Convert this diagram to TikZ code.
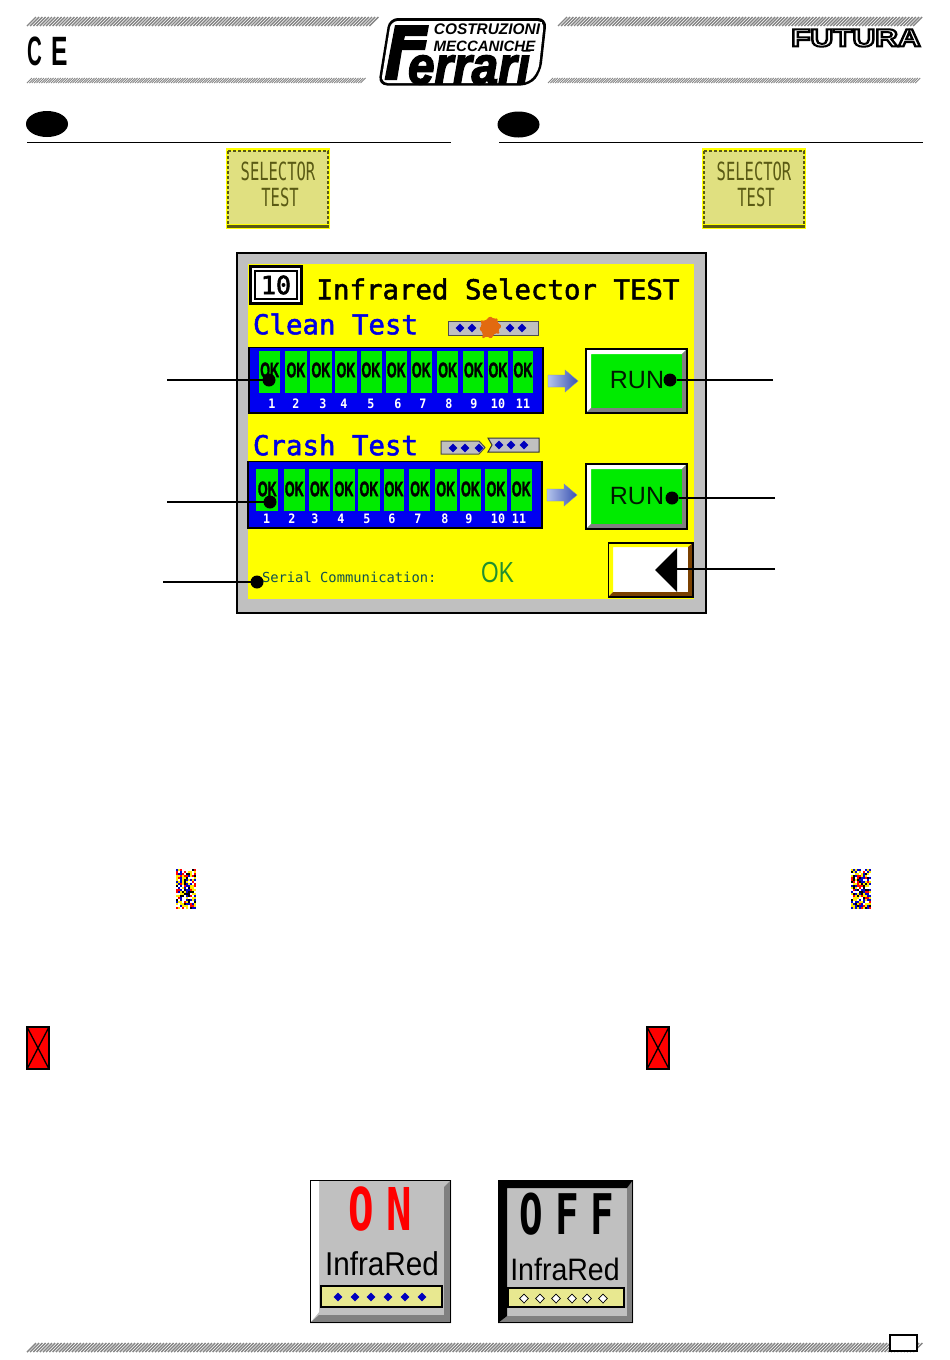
\documentclass[tikz,border=0pt]{standalone}
\usepackage{fontspec}
\usetikzlibrary{shadings}
\setmainfont{Liberation Sans}
\newfontfamily\monof{DejaVu Sans Mono}
\newcommand\fz[1]{\fontsize{#1}{#1}\selectfont}
\newcommand\heavytext[3]{\special{pdf:code 2 Tr #2 w #1 RG #1 rg}#3\special{pdf:code 0 Tr 0 0 0 rg 0 0 0 RG}}
\definecolor{scrgray}{HTML}{C0C0C0}
\definecolor{scryellow}{RGB}{255,255,0}
\definecolor{scrblue}{RGB}{0,0,230}
\definecolor{panelblue}{RGB}{0,0,240}
\definecolor{okgreen}{RGB}{0,235,0}
\definecolor{pale}{HTML}{E0E080}
\definecolor{palebar}{HTML}{E8E890}
\definecolor{olive}{HTML}{5A5A14}
\definecolor{hatchgray}{HTML}{858585}
\definecolor{brownbev}{HTML}{7A4000}
\definecolor{splat}{HTML}{E26A10}
\definecolor{darkbev}{HTML}{808080}
\definecolor{dotblue}{RGB}{0,0,190}
\definecolor{serialc}{HTML}{105050}
\definecolor{serialok}{HTML}{209030}
\definecolor{arrowa}{HTML}{B4C4EC}
\definecolor{arrowb}{HTML}{3850B0}
\definecolor{noisebl}{RGB}{0,0,200}
\definecolor{noisery}{RGB}{255,235,0}
\tikzset{
  txt/.style={inner sep=0pt,outer sep=0pt,anchor=center},
  dotnode/.style={circle,fill=black,minimum size=13pt,inner sep=0pt,outer sep=0pt},
  leader/.style={line width=2.8pt,black},
  hair/.style={line width=1.5pt,black},
  celltxt/.style={txt,font=\bfseries\fz{21},xscale=.6},
  numtxt/.style={txt,white,font=\monof\bfseries\fz{13},xscale=.9},
  wintitle/.style={txt,font=\monof\fz{27.4}},
}
\newcommand\hatchband[6]{% x1,x2,ytop,ybottom,step,width
  \pgfmathsetmacro\nx{#1+#5}
  \foreach \hx in {#1,\nx,...,#2}
    \draw[hatchgray,line width=#6pt] (\hx,#4) -- ++(#4-#3,#3-#4);
}
\newcommand\selbtn[2]{% x, name
  \fill[scryellow] (#1,148) rectangle ++(104,81);
  \fill[pale] (#1+2,151) rectangle ++(100,73);
  \draw[olive,line width=1.4pt,densely dashed] (#1+2,151) -- ++(100,0) -- ++(0,73);
  \draw[olive,line width=1.4pt,densely dashed] (#1+2,151) -- ++(0,74);
  \fill[olive] (#1+1,224.5) rectangle ++(102,3);
  \node[txt,olive,font=\monof\fz{25},xscale=.62] (#2a) at (#1+52,171) {SELECTOR};
  \node[txt,olive,font=\monof\fz{25},xscale=.62] (#2b) at (#1+54,197) {TEST};
}
\newcommand\bluedot[3]{\fill[#3] (#1-4.4,#2) -- (#1,#2-4.4) -- (#1+4.4,#2) -- (#1,#2+4.4) -- cycle;}
\newcommand\noise[2]{%
  \foreach \ci in {0,...,9}\foreach \cj in {0,...,19}{%
    \pgfmathrandominteger{\rr}{0}{7}%
    \ifcase\rr\def\cc{noisery}\or\def\cc{noisebl}\or\def\cc{black}\or\def\cc{red}\or\def\cc{white}\or\def\cc{white}\or\def\cc{noisery}\or\def\cc{noisebl}\fi
    \fill[\cc] (#1+\ci*2,#2+\cj*2) rectangle ++(2,2);}%
}
\newcommand\redx[2]{%
  \fill[red] (#1,#2) rectangle ++(22,42);
  \draw[black,line width=1.6pt] (#1,#2) rectangle ++(22,42);
  \draw[black,line width=1.3pt] (#1,#2) -- ++(22,42) (#1+22,#2) -- ++(-22,42);
}
\newcommand\runbtn[4]{% ytop,ybottom,name,text y
  \fill[okgreen] (586,#1) rectangle (687,#2);
  \fill[white] (586,#1) -- (687,#1) -- (682,#1+5) -- (591,#1+5) -- (591,#2-5) -- (586,#2) -- cycle;
  \fill[darkbev] (687,#1) -- (687,#2) -- (586,#2) -- (591,#2-5) -- (682,#2-5) -- (682,#1+5) -- cycle;
  \draw[hair] (586,#1) rectangle (687,#2);
  \node[txt,font=\fz{25},text=black!90!green] (#3) at (637,#4) {RUN};
}
\newcommand\flowarrow[2]{% x,ycentre
  \shade[left color=arrowa,right color=arrowb,draw=arrowb!70,line width=.4pt]
   (#1,#2-6) -- (#1+17,#2-6) -- (#1+17,#2-11) -- (#1+30,#2) -- (#1+17,#2+11) -- (#1+17,#2+6) -- (#1,#2+6) -- cycle;
}
\begin{document}
\begin{tikzpicture}[x=1pt,y=-1pt]
\useasboundingbox (0,0) rectangle (950,1360);
\fill[white] (0,0) rectangle (950,1360);
% header hatching
\hatchband{27}{370}{17}{26}{3.2}{1.4}
\hatchband{558}{914}{17}{26}{3.2}{1.4}
\hatchband{27}{362}{78}{83}{2.4}{.9}
\hatchband{548}{917}{78}{83}{2.4}{.9}
\hatchband{27}{914}{1343}{1352}{3.2}{1.4}
% CE
\node[txt,font=\bfseries\fz{41},xscale=.5] (ceC) at (34.5,51) {C};
\node[txt,font=\bfseries\fz{41},xscale=.6] (ceE) at (60,51) {E};
% Ferrari logo
\fill[black,rounded corners=9pt] (378,85.5) -- (389,18) -- (547,18) -- (541,72) -- (530,85.5) -- cycle;
\fill[white,rounded corners=7pt] (381,83) -- (391,21) -- (544,21) -- (538.5,71) -- (528,83) -- cycle;
\fill[black] (395,25) -- (429,25) -- (427,36) -- (405,36) -- (404,40) -- (427,40) -- (425,50) -- (402,50) -- (397,80) -- (384.5,80) -- cycle;
\node[txt,font=\bfseries\itshape\fz{53},xscale=.9] (logoc) at (469,65) {\heavytext{0 0 0}{1.6}{errari}};
\fill[white] (429,39) rectangle (540,50);
\fill[white] (432,22) rectangle (542,36);
\node[txt,font=\bfseries\itshape\fz{15.4}] (logoa) at (487,29.5) {COSTRUZIONI};
\node[txt,font=\bfseries\itshape\fz{15}] (logob) at (484.5,46) {MECCANICHE};
% FUTURA
\node[txt,font=\bfseries\fz{25},xscale=1.26] (futura) at (856,38) {\special{pdf:code 2 Tr 2 w 0 0 0 RG 1 1 1 rg}FUTURA\special{pdf:code 0 Tr 0 0 0 rg 0 0 0 RG}};
% section heads
\fill[black] (47,124) ellipse (21 and 13);
\fill[black] (518.5,124.5) ellipse (21 and 13);
\draw[hair] (27,142.5) -- (451,142.5);
\draw[hair] (499,142.5) -- (923,142.5);
\selbtn{226}{sa}
\selbtn{702}{sb}
% screen
\fill[scrgray] (237,253) rectangle (706,613);
\draw[black,line width=2pt] (237,253) rectangle (706,613);
\fill[scryellow] (248,264) rectangle (694,599);
\fill[black] (249,265) rectangle (303,305);
\fill[white] (252,268) rectangle (300,302);
\draw[black,line width=1.8pt] (255,271) rectangle (297,299);
\node[txt,font=\monof\fz{25}] (num) at (276,285) {\heavytext{0 0 0}{.6}{10}};
\node[wintitle] (title) at (498,289) {\heavytext{0 0 0}{.5}{Infrared Selector TEST}};
\node[wintitle] (clean) at (335.5,324) {\heavytext{0 0 .9}{.5}{Clean Test}};
\node[wintitle] (crash) at (335.5,445) {\heavytext{0 0 .9}{.5}{Crash Test}};
% clean-test bar
\fill[scrgray,draw=black!70,line width=1pt] (448,321) rectangle (538,335);
\foreach \dx in {460,472,510,522}{\bluedot{\dx}{328}{dotblue}}
\fill[splat,rounded corners=1.5pt] (490,316) -- (494,319) -- (498,318) -- (497,322) -- (502,326) -- (498,330) -- (500,334) -- (495,333) -- (491,339) -- (487,336) -- (482,339) -- (483,333) -- (479,329) -- (482,325) -- (480,320) -- (485,321) -- cycle;
% crash-test bar
\fill[scrgray,draw=black!70,line width=1pt] (441,441) -- (479,441) -- (485,447.5) -- (479,454) -- (441,454) -- cycle;
\fill[scrgray,draw=black!80,line width=1pt] (488,438) -- (539,438) -- (539,452) -- (488,452) -- (492,445) -- cycle;
\foreach \dx in {453,465,479}{\bluedot{\dx}{448}{dotblue}}
\foreach \dx in {499,511,524}{\bluedot{\dx}{445}{dotblue}}
% panels
\fill[panelblue] (249,347.5) rectangle (543,413);
\draw[black,line width=1.8pt] (249,347.5) rectangle (543,413);
\fill[panelblue] (248,461.5) rectangle (542,528);
\draw[black,line width=1.8pt] (248,461.5) rectangle (542,528);
\foreach \xa/\xb/\cx/\nx/\lab in {259.3/280/269.7/272/1,285.3/307/296/296/2,310/331.7/321/323/3,335.3/356.7/346/344/4,361/381.7/371/371/5,386/406.7/396.3/398/6,411/431.7/421.3/423/7,437/458.3/447.7/449/8,463.3/483.7/473.5/474/9,488/508.3/498/498/10,512.7/533.3/523/523/11}{
  \fill[okgreen] (\xa,351) rectangle (\xb,393);
  \node[celltxt] (ca\lab) at (\cx,370) {\heavytext{0 0 0}{.5}{OK}};
  \node[numtxt] (na\lab) at (\nx,404) {\lab};
}
\foreach \xa/\xb/\cx/\nx/\lab in {256.3/278.3/267.3/266.7/1,283.7/305/294.3/292/2,308.7/330.3/319.5/315/3,333.3/354.7/344/341/4,358.3/380/369/367/5,383.7/404.3/394/392/6,409.3/430/419.7/418/7,435/456.7/445.8/445/8,460/481/470.5/469/9,485.3/506.7/496/498/10,511/531.7/521.3/519/11}{
  \fill[okgreen] (\xa,469) rectangle (\xb,511);
  \node[celltxt] (cb\lab) at (\cx,489) {\heavytext{0 0 0}{.5}{OK}};
  \node[numtxt] (nb\lab) at (\nx,519) {\lab};
}
\flowarrow{548}{381}
\flowarrow{547}{495}
\runbtn{349}{413}{runa}{380}
\runbtn{464}{529}{runb}{496}
% back button
\fill[white] (608,543) rectangle (693,597);
\fill[scryellow] (608,543) -- (693,543) -- (688,547) -- (613,547) -- (613,592) -- (608,597) -- cycle;
\fill[brownbev] (693,543) -- (693,597) -- (608,597) -- (613,592) -- (688,592) -- (688,547) -- cycle;
\draw[hair] (608.5,543) rectangle (693,597);
\fill[black] (655,570) -- (677,548) -- (677,592) -- cycle;
\coordinate (backtip) at (677,569);
% serial
\node[txt,anchor=west,font=\monof\fz{13.8},text=serialc] (serial) at (262,577) {Serial Communication:};
\node[txt,font=\fz{29},xscale=.78,text=serialok] (serialok) at (497.5,572.5) {OK};
% callouts
\node[dotnode] (d1) at (269,380) {};
\node[dotnode] (d2) at (270,502) {};
\node[dotnode] (d3) at (257,582) {};
\node[dotnode] (d4) at (670,380) {};
\node[dotnode] (d5) at (672,498) {};
\coordinate (e1) at (167,380);
\coordinate (e2) at (167,502);
\coordinate (e3) at (163,582);
\coordinate (e4) at (773,380);
\coordinate (e5) at (775,498);
\coordinate (e6) at (775,569);
\draw[leader] (e1) -- (d1);
\draw[leader] (e2) -- (d2);
\draw[leader] (e3) -- (d3);
\draw[leader] (e4) -- (d4);
\draw[leader] (e5) -- (d5);
\draw[leader] (e6) -- (backtip);
% missing images
\pgfmathsetseed{11}
\noise{176}{869}
\noise{851}{869}
\redx{27}{1027}
\redx{647}{1027}
% ON tile
\fill[scrgray] (310,1180) rectangle (451,1323);
\fill[white] (310,1180) -- (319,1180) -- (319,1312) -- (310,1323) -- cycle;
\fill[darkbev] (451,1180) -- (451,1323) -- (310,1323) -- (319,1315) -- (444,1315) -- (444,1187) -- cycle;
\draw[black,line width=1.8pt] (310.5,1180.5) rectangle (450.5,1322.5);
\node[txt,red,font=\monof\bfseries\fz{59},xscale=.72] (on) at (380,1209) {O\kern17pt N};
\node[txt,font=\fz{33},xscale=.9] (ira) at (382,1264) {InfraRed};
\fill[palebar] (321,1286) rectangle (442,1307);
\draw[black,line width=1.8pt] (321,1286) rectangle (442,1307);
\foreach \dx in {338,355,371,388,405,422}{\bluedot{\dx}{1297}{dotblue}}
% OFF tile
\fill[scrgray] (498,1180) rectangle (633,1323);
\fill[darkbev] (633,1180) -- (633,1323) -- (498,1323) -- (507,1316) -- (627,1316) -- (627,1188) -- cycle;
\fill[black] (498,1180) -- (633,1180) -- (627,1188) -- (507,1188) -- (507,1316) -- (498,1323) -- cycle;
\draw[black,line width=1.8pt] (498.5,1180.5) rectangle (632.5,1322.5);
\node[txt,font=\monof\bfseries\fz{56},xscale=.7] (off) at (567,1214) {O\kern17pt F\kern17pt F};
\node[txt,font=\fz{31},xscale=.92] (irb) at (565,1269) {InfraRed};
\fill[palebar] (508,1288) rectangle (624,1307);
\draw[black,line width=1.8pt] (508,1288) rectangle (624,1307);
\foreach \dx in {524,540,556,572,587,603}{\fill[white,draw=black,line width=.7pt] (\dx-4.4,1298.5) -- (\dx,1294) -- (\dx+4.4,1298.5) -- (\dx,1303) -- cycle;}
% page number box
\fill[white] (890,1335) rectangle (917,1351);
\draw[hair] (890,1335) rectangle (917,1351);
\end{tikzpicture}
\end{document}
